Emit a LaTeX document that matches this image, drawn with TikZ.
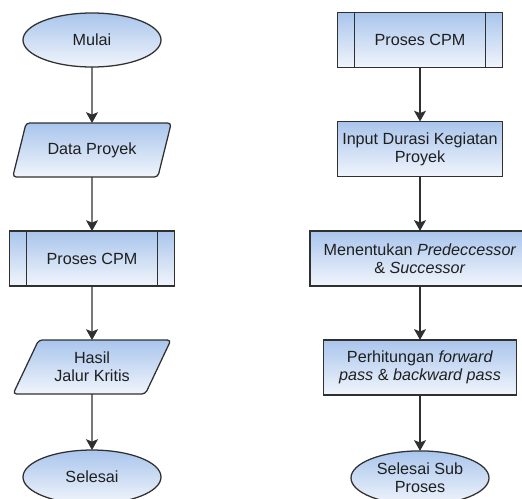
\documentclass[tikz,border=0pt]{standalone}
\usepackage{fontspec}
\setmainfont{Liberation Sans}
\usepackage{tikz}
\usetikzlibrary{arrows.meta, positioning, shapes.geometric}
\definecolor{mTopBlue}{HTML}{A9C5EC}
\definecolor{mLowBlue}{HTML}{F1F5FC}
\definecolor{mEdge}{HTML}{303030}

\begin{document}
\begin{tikzpicture}[
    base/.style={draw=mEdge, line width=0.9pt, top color=mTopBlue, bottom color=mLowBlue, text=black!88, align=center, inner sep=0pt, outer sep=0pt, font=\fontsize{11.5}{13}\selectfont},
    term/.style={base, ellipse, minimum width=3.45cm, minimum height=1.35cm},
    io/.style={base, trapezium, trapezium left angle=59, trapezium right angle=121, trapezium stretches=true, minimum width=3.975cm, minimum height=1.35cm, rounded corners=2.5pt},
    procbox/.style={base, rectangle, minimum width=4.125cm, minimum height=1.375cm},
    subproc/.style={procbox, path picture={
        \draw[mEdge, line width=0.9pt] ([xshift=0.425cm]path picture bounding box.north west) -- ([xshift=0.425cm]path picture bounding box.south west)
            ([xshift=-0.425cm]path picture bounding box.north east) -- ([xshift=-0.425cm]path picture bounding box.south east);}},
    arr/.style={-{Stealth[length=0.27cm, width=0.3cm, inset=0.06cm]}, line width=0.9pt, draw=mEdge}
]
    \useasboundingbox (0,0) rectangle (13.05,-12.475);

    % main flow
    \node[term] (mulai) at (2.3,-1.0) {Mulai};
    \node[io, below=1.4cm of mulai] (data) {Data Proyek};
    \node[subproc, below=1.35cm of data] (cpmA) {Proses CPM};
    \node[io, below=1.35cm of cpmA] (hasil) {Hasil\\Jalur Kritis};
    \node[term, below=1.4cm of hasil] (selesai) {Selesai};

    % CPM sub process
    \node[subproc] (cpmB) at (10.5,-1.0) {Proses CPM};
    \node[procbox, below=1.35cm of cpmB] (durasi) {Input Durasi Kegiatan\\Proyek};
    \node[procbox, minimum width=5.5cm, below=1.36cm of durasi] (pred) {Menentukan \emph{Predeccessor}\\\& \emph{Successor}};
    \node[procbox, minimum width=4.825cm, below=1.35cm of pred] (hitung) {Perhitungan \emph{forward}\\\emph{pass} \& \emph{backward pass}};
    \node[term, below=1.4cm of hitung] (subend) {Selesai Sub\\Proses};

    % Arrows
    \draw[arr] (mulai) -- (data);
    \draw[arr] (data) -- (cpmA);
    \draw[arr] (cpmA) -- (hasil);
    \draw[arr] (hasil) -- (selesai);

    \draw[arr] (cpmB) -- (durasi);
    \draw[arr] (durasi) -- (pred);
    \draw[arr] (pred) -- (hitung);
    \draw[arr] (hitung) -- (subend);
\end{tikzpicture}
\end{document}
